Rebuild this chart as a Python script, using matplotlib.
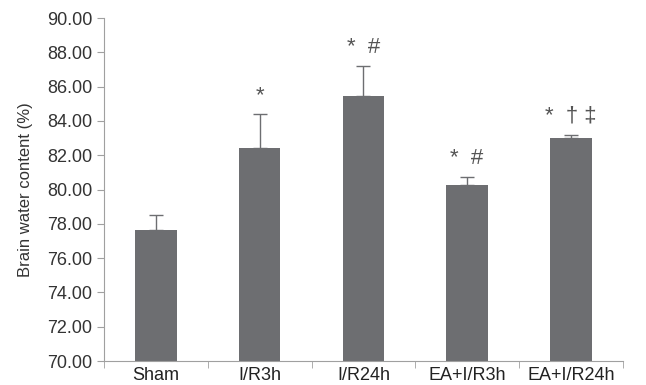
import matplotlib

matplotlib.use("Agg")
import matplotlib.pyplot as plt
import numpy as np

plt.rcParams["font.family"] = ["Liberation Sans", "DejaVu Sans"]

groups = ["Sham", "I/R3h", "I/R24h", "EA+I/R3h", "EA+I/R24h"]
means = [77.65, 82.45, 85.45, 80.25, 83.0]
errs = [0.85, 1.95, 1.75, 0.5, 0.2]
marks = ["", "*", "*  #", "*  #", "*  \u2020 \u2021"]
yticks = [70, 72, 74, 76, 78, 80, 82, 84, 86, 88, 90]

GREY = "#6d6e71"
AXIS = "#a0a0a0"

fig = plt.figure(figsize=(6.46, 3.85), dpi=100)
ax = fig.add_axes([0.161, 0.0623, 0.803, 0.8907])

x = np.arange(len(groups))
ax.bar(x, means, width=0.4, color=GREY, zorder=2)
ax.errorbar(x, means, yerr=[np.zeros(len(errs)), errs], fmt="none",
            ecolor=GREY, elinewidth=1.0, capsize=5, capthick=1.0, zorder=3)

for xi, m, e, t in zip(x, means, errs, marks):
    if t:
        ax.text(xi, m + e + 0.45, t, ha="center", va="bottom", fontsize=16, color="#555555")

ax.set_xlim(-0.5, len(groups) - 0.5)
ax.set_ylim(70, 90)
ax.set_yticks(yticks)
ax.set_yticklabels([f"{v:.2f}" for v in yticks], fontsize=13, color="#333333")
ax.set_xticks(x)
ax.set_xticklabels(groups, fontsize=13, color="#222222")
ax.set_xticks(np.arange(len(groups) + 1) - 0.5, minor=True)
ax.tick_params(axis="x", which="major", length=0, pad=4)
ax.tick_params(axis="x", which="minor", length=5, color=AXIS, direction="out")
ax.tick_params(axis="y", length=5, color=AXIS, direction="out")
ax.set_ylabel("Brain water content (%)", fontsize=12, color="#333333", labelpad=10)

for s in ("top", "right"):
    ax.spines[s].set_visible(False)
for s in ("left", "bottom"):
    ax.spines[s].set_color(AXIS)

fig.savefig("out.png", dpi=100)
